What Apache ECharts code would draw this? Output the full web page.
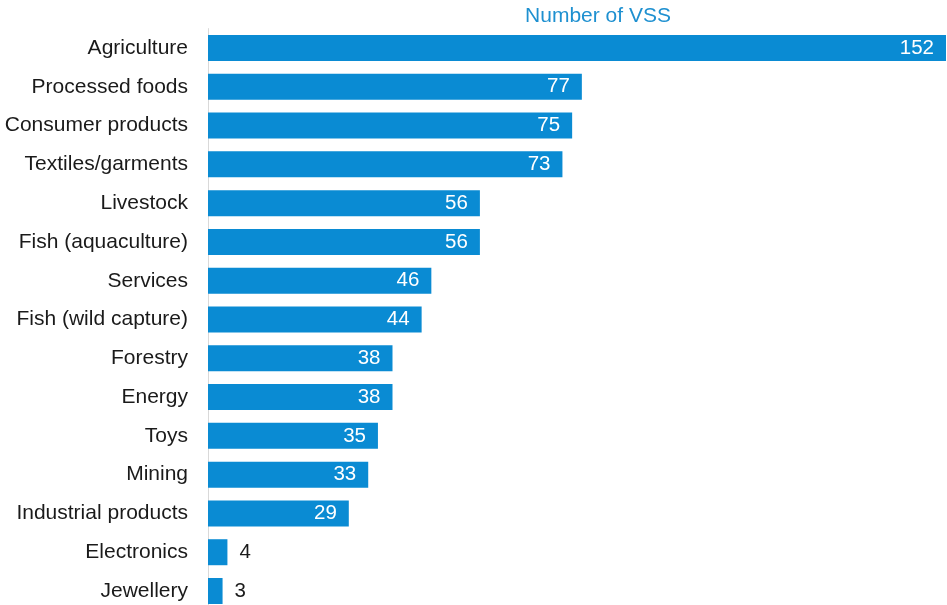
<!DOCTYPE html>
<html>
<head>
<meta charset="utf-8">
<script src="https://cdn.jsdelivr.net/npm/echarts@6/dist/echarts.min.js"></script>
<style>
html,body{margin:0;padding:0;background:#fff;overflow:hidden;width:947px;height:605px;}
#chart{width:947px;height:616px;}
</style>
</head>
<body>
<div id="chart"></div>
<script>
// Voluntary sustainability standards by sector
const sectors = ["Agriculture","Processed foods","Consumer products","Textiles/garments","Livestock","Fish (aquaculture)","Services","Fish (wild capture)","Forestry","Energy","Toys","Mining","Industrial products","Electronics","Jewellery"];
const counts = [152,77,75,73,56,56,46,44,38,38,35,33,29,4,3];

const BLUE = '#0A8BD3';
const FONT = '"Liberation Sans", Arial, sans-serif';

const chart = echarts.init(document.getElementById('chart'));
chart.setOption({
  animation: false,
  title: {
    text: 'Number of VSS',
    left: 593, top: 1, textAlign: 'center',
    textStyle: {color: '#1E90D0', fontSize: 21, fontWeight: 'normal', fontFamily: FONT}
  },
  grid: {left: 208, right: 1, top: 28.6, height: 581.8, containLabel: false},
  xAxis: {
    type: 'value', min: 0, max: 152, show: false
  },
  yAxis: {
    type: 'category', inverse: true, data: sectors,
    axisLine: {show: true, lineStyle: {color: '#D9D9D9', width: 1}},
    axisTick: {show: false},
    axisLabel: {color: '#1a1a1a', fontSize: 21, fontFamily: FONT, margin: 20}
  },
  series: [{
    type: 'bar',
    data: counts.map(v => ({
      value: v,
      label: v < 10
        ? {position: 'right', color: '#1a1a1a', distance: 12}
        : {position: 'insideRight', color: '#ffffff', distance: 12}
    })),
    barWidth: 26,
    itemStyle: {color: BLUE},
    label: {show: true, fontSize: 20.5, fontFamily: FONT}
  }]
});
</script>
</body>
</html>
